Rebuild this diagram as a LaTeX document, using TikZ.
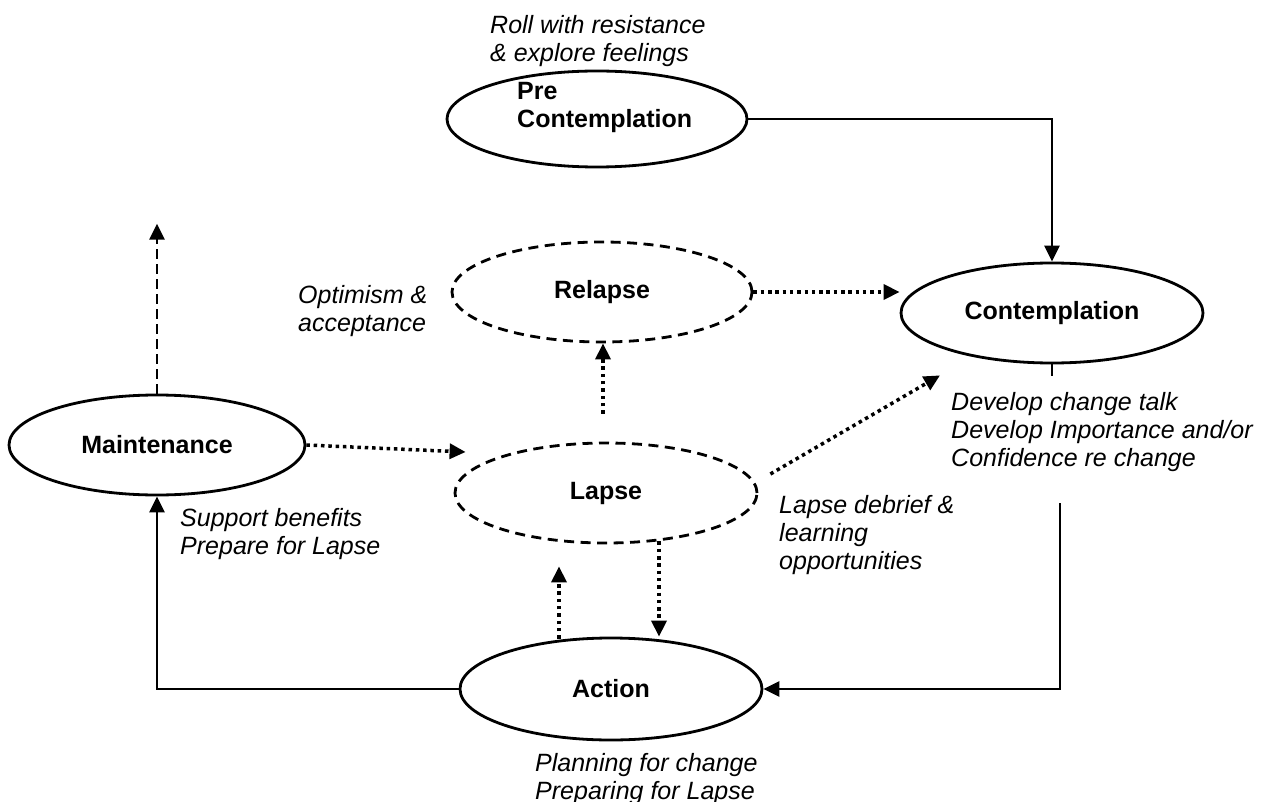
\documentclass[tikz,border=0pt]{standalone}
\usepackage{fontspec}
\setmainfont{Liberation Sans}
\usetikzlibrary{shapes.geometric,arrows.meta,calc}
\begin{document}
\begin{tikzpicture}[x=1pt,y=-1pt,
  every node/.style={inner sep=0pt},
  stage/.style={ellipse, draw, line width=2.8pt,
    font=\fontsize{25}{28}\selectfont\bfseries},
  lapsestage/.style={stage, dash pattern=on 10pt off 6.5pt},
  heading/.style={font=\fontsize{25}{28}\selectfont\bfseries, align=left, anchor=north west},
  note/.style={font=\fontsize{25}{28}\selectfont\itshape, align=left, anchor=north west},
  link/.style={line width=2.5pt, -{Triangle[length=16pt,width=15pt]}},
  dotlink/.style={link, line width=3.5pt, dash pattern=on 3.5pt off 3.8pt},
  dashlink/.style={link, line width=2.8pt, dash pattern=on 10pt off 5pt},
  plain/.style={line width=2.5pt},
]
\useasboundingbox (0,0) rectangle (1265,802);

% stages of change
\node[stage, minimum width=300pt, minimum height=96pt] (pre) at (597,119) {};
\node[heading] (pretext) at (517,82) {Pre\\Contemplation};
\node[stage, minimum width=302pt, minimum height=100pt] (contemp) at (1052,313) {Contemplation};
\node[lapsestage, minimum width=300pt, minimum height=100pt] (relapse) at (602,292) {Relapse};
\node[stage, minimum width=296pt, minimum height=100pt] (maint) at (157,445) {Maintenance};
\node[lapsestage, minimum width=302pt, minimum height=100pt] (lapse) at (606,493) {Lapse};
\node[stage, minimum width=302pt, minimum height=102pt] (action) at (611,689) {Action};

% notes on each stage
\node[note] (roll) at (490,15) {Roll with resistance\\\& explore feelings};
\node[note] (optim) at (298,285) {Optimism \&\\acceptance};
\node[note] (develop) at (951,392) {Develop change talk\\Develop Importance and/or\\Confidence re change};
\node[note] (debrief) at (779,495) {Lapse debrief \&\\learning\\opportunities};
\node[note] (support) at (180,508) {Support benefits\\Prepare for Lapse};
\node[note] (planning) at (535,753) {Planning for change\\Preparing for Lapse};

% free ends of connectors
\coordinate (relapseTip) at (relapse.east -| contemp.west);
\coordinate (lapseTop) at ($(lapse.north)+(-3,-28)$);
\coordinate (maintTip) at ($(lapse.west)+(12,-41)$);
\coordinate (debriefStart) at ($(lapse.east)+(12,-19)$);
\coordinate (debriefTip) at ($(contemp.south)+(-112,11)$);
\coordinate (actUp) at ($(action.north)+(-52,2)$);
\coordinate (actUpTip) at ($(lapse.south)+(-47,22)$);
\coordinate (lapseDown) at ($(lapse.south)+(53,-3)$);
\coordinate (contempDrop) at ($(contemp.south)+(8,139)$);
\coordinate (maintUp) at ($(maint.north)+(0,-170)$);

% main cycle
\draw[link] (pre.east) -| (contemp.north);
\draw[plain] (contemp.south) -- ++(0,12);
\draw[link] (contempDrop) |- (action.east);
\draw[link] (action.west) -| (maint.south);
\draw[dashlink] (maint.north) -- (maintUp);

% lapse and relapse paths
\draw[dotlink] (maint.east) -- (maintTip);
\draw[dotlink] (lapseTop) -- (lapseTop |- relapse.south);
\draw[dotlink] (relapse.east) -- (relapseTip);
\draw[dotlink] (debriefStart) -- (debriefTip);
\draw[dotlink] (actUp) -- (actUpTip);
\draw[dotlink] (lapseDown) -- (lapseDown |- action.north);
\end{tikzpicture}
\end{document}
